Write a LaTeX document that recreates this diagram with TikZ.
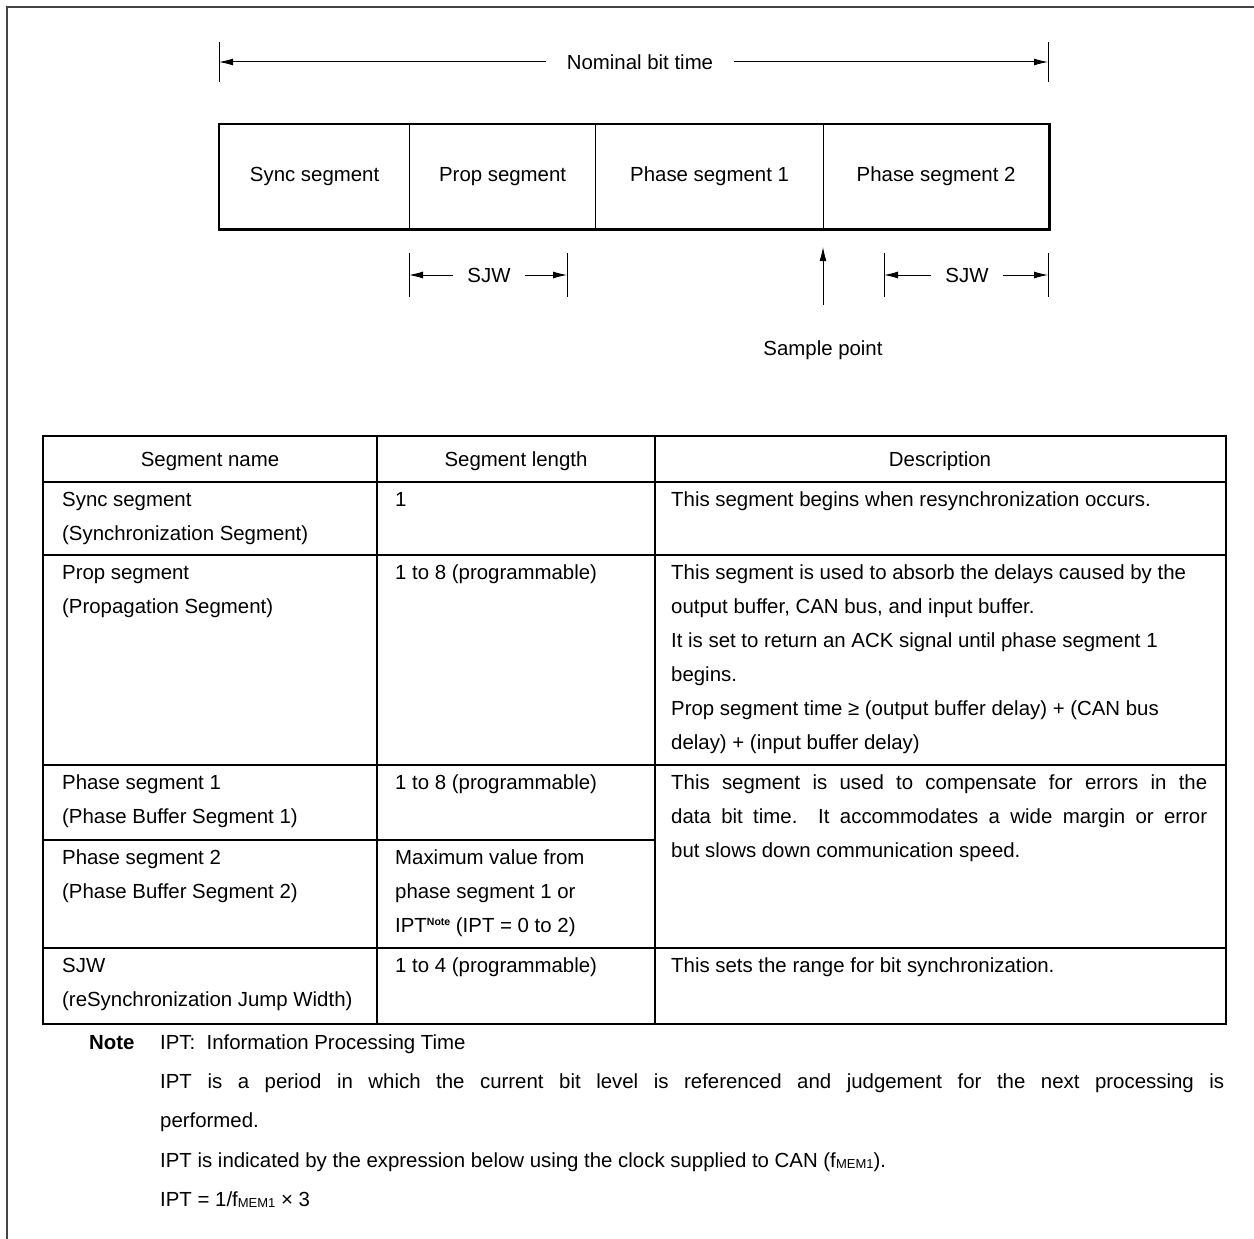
\documentclass[tikz,border=0pt]{standalone}
\usepackage{fontspec}
\setmainfont{Liberation Sans}
\usetikzlibrary{arrows.meta}
\definecolor{framegray}{HTML}{444444}
\newcommand\fstrut{\rule{0pt}{15pt}}
\newcommand\fmem{f\raisebox{-1pt}{\fontsize{13}{13}\selectfont MEM1}}
\newcommand\notesup{\raisebox{7.5pt}{\fontsize{10.5}{10.5}\selectfont\bfseries Note}}
\tikzset{
  every node/.style={font=\fontsize{20.4}{34}\selectfont, inner sep=0pt},
  frameline/.style={draw=framegray, line width=2pt},
  tickline/.style={line width=1pt},
  dimarrow/.style={line width=1pt, -{Latex[length=14pt,width=7pt]}},
  segcell/.style={draw, line width=1.2pt, minimum height=104pt, anchor=north west},
  boxouter/.style={line width=2.6pt},
  tabouter/.style={line width=2.5pt},
  tabinner/.style={line width=1.8pt},
  tabthin/.style={line width=1.3pt},
  celltext/.style={anchor=north west, align=left},
  headtext/.style={anchor=center}
}
\begin{document}
\begin{tikzpicture}[x=1pt,y=-1pt]
\useasboundingbox (0,0) rectangle (1254,1239);
\fill[white] (0,0) rectangle (1254,1239);
\draw[frameline] (6.5,1239) -- (6.5,7.5) -- (1254,7.5);

% ---- Nominal bit time ----
\coordinate (nomL) at (219,62);
\coordinate (nomR) at (1048,62);
\node[inner xsep=21pt] (nom) at (640,62) {Nominal bit time};
\draw[dimarrow] (nom.west) -- (nomL);
\draw[dimarrow] (nom.east) -- (nomR);
\draw[tickline] (nomL) ++(0,-20) -- ++(0,40);
\draw[tickline] (nomR) ++(0,-20) -- ++(0,40);

% ---- segment box ----
\node[segcell, minimum width=190pt] (sync) at (219,124) {Sync segment};
\node[segcell, minimum width=186pt] (prop) at (409,124) {Prop segment};
\node[segcell, minimum width=228pt] (ph1) at (595,124) {Phase segment 1};
\node[segcell, minimum width=225pt] (ph2) at (823,124) {Phase segment 2};
\draw[boxouter] (sync.north west) rectangle (ph2.south east);

% ---- SJW arrows ----
\coordinate (sjwaL) at (409,275);
\coordinate (sjwaR) at (567,275);
\node[inner xsep=14pt] (sjwa) at (489,275) {SJW};
\draw[dimarrow] (sjwa.west) -- (sjwaL);
\draw[dimarrow] (sjwa.east) -- (sjwaR);
\draw[tickline] (sjwaL) ++(0,-22) -- ++(0,44);
\draw[tickline] (sjwaR) ++(0,-22) -- ++(0,44);

\coordinate (sjwbL) at (884,275);
\coordinate (sjwbR) at (1048,275);
\node[inner xsep=14pt] (sjwb) at (967,275) {SJW};
\draw[dimarrow] (sjwb.west) -- (sjwbL);
\draw[dimarrow] (sjwb.east) -- (sjwbR);
\draw[tickline] (sjwbL) ++(0,-22) -- ++(0,44);
\draw[tickline] (sjwbR) ++(0,-22) -- ++(0,44);

% ---- sample point ----
\coordinate (spbot) at (823,305);
\coordinate (sptop) at (823,247);
\draw[dimarrow] (spbot) -- (sptop);
\node (sp) at (823,350) {Sample point};

% ---- table grid ----
\draw[tabinner] (43,482) -- (1226,482);
\draw[tabinner] (43,555) -- (1226,555);
\draw[tabinner] (43,765) -- (1226,765);
\draw[tabthin] (43,840) -- (655,840);
\draw[tabinner] (43,948) -- (1226,948);
\draw[tabinner] (377,436) -- (377,1024);
\draw[tabinner] (655,436) -- (655,1024);
\draw[tabouter] (43,436) rectangle (1226,1024);

% ---- header ----
\node[headtext] (h1) at (210,461) {Segment name};
\node[headtext] (h2) at (516,461) {Segment length};
\node[headtext] (h3) at (940,461) {Description};

% ---- rows ----
\node[celltext] (r1a) at (62,491.3) {\fstrut Sync segment\\(Synchronization Segment)};
\node[celltext] (r1b) at (395,491.3) {\fstrut 1};
\node[celltext] (r1c) at (671,491.3) {\fstrut This segment begins when resynchronization occurs.};

\node[celltext] (r2a) at (62,564.3) {\fstrut Prop segment\\(Propagation Segment)};
\node[celltext] (r2b) at (395,564.3) {\fstrut 1 to 8 (programmable)};
\node[celltext] (r2c) at (671,564.3) {\fstrut This segment is used to absorb the delays caused by the\\
output buffer, CAN bus, and input buffer.\\
It is set to return an ACK signal until phase segment 1\\
begins.\\
Prop segment time ≥ (output buffer delay) + (CAN bus\\
delay) + (input buffer delay)};

\node[celltext] (r3a) at (62,774.3) {\fstrut Phase segment 1\\(Phase Buffer Segment 1)};
\node[celltext] (r3b) at (395,774.3) {\fstrut 1 to 8 (programmable)};
\node[celltext] (r3c) at (671,774.3) {\fstrut\makebox[536pt][s]{This segment is used to compensate for errors in the}\\
\makebox[536pt][s]{data bit time.\ \ It accommodates a wide margin or error}\\
but slows down communication speed.};

\node[celltext] (r4a) at (62,849.3) {\fstrut Phase segment 2\\(Phase Buffer Segment 2)};
\node[celltext] (r4b) at (395,849.3) {\fstrut Maximum value from\\phase segment 1 or\\IPT\notesup{} (IPT = 0 to 2)};

\node[celltext] (r5a) at (62,957.3) {\fstrut SJW\\(reSynchronization Jump Width)};
\node[celltext] (r5b) at (395,957.3) {\fstrut 1 to 4 (programmable)};
\node[celltext] (r5c) at (671,957.3) {\fstrut This sets the range for bit synchronization.};

% ---- note ----
\node[anchor=base west, font=\fontsize{20.4}{34}\selectfont\bfseries] (notelbl) at (89,1049.3) {Note};
\node[celltext, font=\fontsize{20.4}{39.2}\selectfont] (notebody) at (160,1034.3) {\fstrut IPT:\ \ Information Processing Time\\
\makebox[1064pt][s]{IPT is a period in which the current bit level is referenced and judgement for the next processing is}\\
performed.\\
IPT is indicated by the expression below using the clock supplied to CAN (\fmem).\\
IPT = 1/\fmem\ × 3};
\end{tikzpicture}
\end{document}
